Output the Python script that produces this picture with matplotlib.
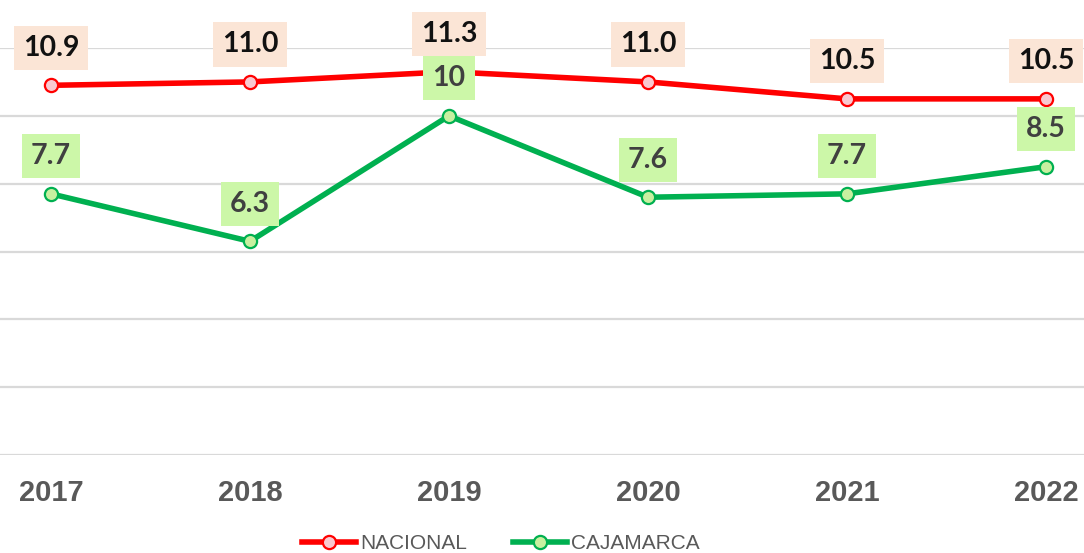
import matplotlib.pyplot as plt

years = ["2017", "2018", "2019", "2020", "2021", "2022"]
nacional = [10.9, 11.0, 11.3, 11.0, 10.5, 10.5]
cajamarca = [7.7, 6.3, 10.0, 7.6, 7.7, 8.5]
nacional_labels = ["10.9", "11.0", "11.3", "11.0", "10.5", "10.5"]
cajamarca_labels = ["7.7", "6.3", "10", "7.6", "7.7", "8.5"]


def add_labels(ax, xs, ys, labels, text_color, box_color):
    for x, y, lab in zip(xs, ys, labels):
        ax.annotate(
            lab, (x, y), xytext=(0, 27), textcoords="offset points",
            ha="center", va="center", fontsize=20.5, fontweight="bold",
            family=["Lato", "DejaVu Sans"], color=text_color,
            bbox=dict(boxstyle="square,pad=0.32", fc=box_color, ec="none"),
            zorder=5,
        )


def main():
    fig = plt.figure(figsize=(10.84, 5.53), dpi=100)
    ax = fig.add_axes([0, 98 / 553, 1, (455 - 48) / 553])

    xs = list(range(len(years)))

    ax.plot(xs, nacional, color="#FF0000", lw=4, marker="o", ms=9.5,
            mfc="#F9C9D0", mec="#FF0000", mew=1.6, label="NACIONAL", zorder=3)
    ax.plot(xs, cajamarca, color="#00B050", lw=4, marker="o", ms=9.5,
            mfc="#C8F0A0", mec="#00B050", mew=1.6, label="CAJAMARCA", zorder=3)

    add_labels(ax, xs, nacional, nacional_labels, "#111111", "#FBE5D6")
    add_labels(ax, xs, cajamarca, cajamarca_labels, "#404040", "#CCF7A8")

    ax.set_xlim(-51 / 199, 5 + 38 / 199)
    ax.set_ylim(0, 12)
    ax.set_yticks(range(0, 13, 2))
    ax.yaxis.grid(True, color="#D9D9D9", lw=1.6)
    ax.set_axisbelow(True)
    ax.tick_params(axis="y", left=False, labelleft=False)
    ax.tick_params(axis="x", bottom=False, pad=14)
    ax.set_xticks(xs)
    ax.set_xticklabels(years, fontsize=21, fontweight="bold", color="#595959",
                       family=["Liberation Sans", "DejaVu Sans"])
    for s in ax.spines.values():
        s.set_visible(False)

    fig.legend(loc="center", bbox_to_anchor=(0.462, 0.017), ncol=2, frameon=False,
               prop={"family": ["Liberation Sans", "DejaVu Sans"], "size": 15},
               labelcolor="#595959", handlelength=2.6, columnspacing=2.2,
               handletextpad=0.2)

    fig.savefig("out.png", dpi=100)


if __name__ == "__main__":
    main()
